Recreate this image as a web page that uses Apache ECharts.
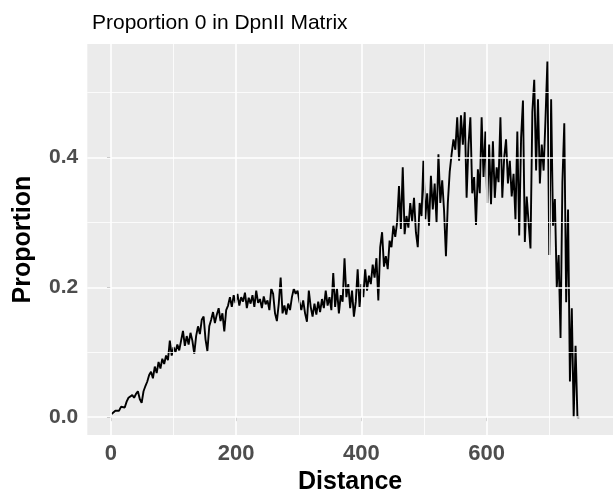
<!DOCTYPE html>
<html>
<head>
<meta charset="utf-8">
<title>Proportion 0 in DpnII Matrix</title>
<script src="https://cdn.jsdelivr.net/npm/echarts@6/dist/echarts.min.js"></script>
<style>
  html, body { margin: 0; padding: 0; background: #fff; }
  #chart { width: 613px; height: 500px; }
</style>
</head>
<body>
<div id="chart"></div>
<script>
// distance goes 1, 4, 7 ... (one value every 3)
const distStart = 1
const distStep = 3
const proportion = [
  0.005, 0.008, 0.010, 0.012, 0.010, 0.016, 0.018, 0.015, 0.024, 0.030,
  0.028, 0.034, 0.030, 0.036, 0.040, 0.028, 0.022, 0.040, 0.048, 0.055,
  0.065, 0.070, 0.060, 0.078, 0.068, 0.085, 0.075, 0.090, 0.082, 0.095,
  0.088, 0.118, 0.095, 0.108, 0.100, 0.112, 0.103, 0.118, 0.133, 0.110,
  0.125, 0.112, 0.130, 0.118, 0.098, 0.125, 0.140, 0.128, 0.150, 0.155,
  0.120, 0.102, 0.140, 0.150, 0.162, 0.145, 0.158, 0.168, 0.148, 0.160,
  0.132, 0.165, 0.172, 0.185, 0.170, 0.188, 0.176, 0.190, 0.172, 0.185,
  0.178, 0.192, 0.168, 0.184, 0.175, 0.188, 0.170, 0.195, 0.176, 0.182,
  0.168, 0.186, 0.174, 0.180, 0.165, 0.198, 0.190, 0.160, 0.148, 0.175,
  0.215, 0.160, 0.172, 0.158, 0.175, 0.165, 0.185, 0.198, 0.190, 0.195,
  0.178, 0.165, 0.180, 0.160, 0.147, 0.195, 0.170, 0.155, 0.175, 0.158,
  0.178, 0.162, 0.182, 0.168, 0.195, 0.172, 0.185, 0.165, 0.222, 0.170,
  0.198, 0.160, 0.188, 0.178, 0.245, 0.185, 0.205, 0.168, 0.195, 0.155,
  0.178, 0.228, 0.170, 0.205, 0.185, 0.228, 0.195, 0.218, 0.205, 0.235,
  0.215, 0.245, 0.180, 0.262, 0.285, 0.232, 0.248, 0.228, 0.272, 0.262,
  0.295, 0.278, 0.300, 0.356, 0.290, 0.385, 0.282, 0.310, 0.292, 0.330,
  0.302, 0.338, 0.285, 0.262, 0.330, 0.310, 0.395, 0.305, 0.345, 0.295,
  0.372, 0.320, 0.360, 0.300, 0.405, 0.330, 0.365, 0.318, 0.248, 0.330,
  0.378, 0.405, 0.428, 0.412, 0.462, 0.395, 0.465, 0.420, 0.470, 0.338,
  0.420, 0.462, 0.345, 0.370, 0.296, 0.382, 0.345, 0.462, 0.370, 0.440,
  0.330, 0.420, 0.328, 0.425, 0.338, 0.385, 0.362, 0.462, 0.338, 0.400,
  0.428, 0.360, 0.395, 0.340, 0.375, 0.305, 0.440, 0.280, 0.430, 0.488,
  0.270, 0.340, 0.300, 0.260, 0.470, 0.520, 0.380, 0.490, 0.360, 0.420,
  0.380, 0.460, 0.548, 0.250, 0.490, 0.295, 0.336, 0.200, 0.250, 0.122,
  0.362, 0.453, 0.177, 0.320, 0.055, 0.168, 0.000, 0.110, 0.000, 0.000
]

const xTicks = [0, 200, 400, 600]
const xMinor = [100, 300, 500, 700]
const yTicks = [0, 0.2, 0.4]
const yMinor = [0.1, 0.3, 0.5]

const font = "'Liberation Sans', Arial, Helvetica, sans-serif"
const points = proportion.map((v, i) => [distStart + i * distStep, v])

// white panel grid lines (ggplot look), drawn under the data line
const gridData = []
xMinor.forEach(v => gridData.push({ xAxis: v, lineStyle: { width: 0.8 } }))
yMinor.forEach(v => gridData.push({ yAxis: v, lineStyle: { width: 0.8 } }))
xTicks.forEach(v => gridData.push({ xAxis: v, lineStyle: { width: 1.6 } }))
yTicks.forEach(v => gridData.push({ yAxis: v, lineStyle: { width: 1.6 } }))

const chart = echarts.init(document.getElementById('chart'), null, { renderer: 'canvas' })
const opt = {
  animation: false,
  title: {
    text: 'Proportion 0 in DpnII Matrix',
    left: 87,
    top: 8,
    textStyle: { fontFamily: font, fontSize: 21, fontWeight: 'normal', color: '#000' }
  },
  grid: {
    left: 87.3,
    right: -15,
    top: 44,
    bottom: 62.7,
    show: true,
    backgroundColor: '#EBEBEB',
    borderWidth: 0
  },
  xAxis: {
    type: 'value',
    min: -37.8,
    max: 801.8,
    name: 'Distance',
    nameLocation: 'middle',
    nameGap: 30,
    nameTextStyle: { fontFamily: font, fontSize: 25, fontWeight: 'bold', color: '#000' },
    axisLine: { show: false },
    splitLine: { show: false },
    axisTick: { show: true, length: 4, customValues: xTicks, lineStyle: { color: '#333', width: 1 } },
    axisLabel: {
      customValues: xTicks,
      margin: 8,
      fontFamily: font,
      fontSize: 22,
      fontWeight: 'bold',
      color: '#4D4D4D'
    }
  },
  yAxis: {
    type: 'value',
    min: -0.0276,
    max: 0.575,
    name: 'Proportion',
    nameLocation: 'middle',
    nameRotate: 90,
    nameGap: 52,
    nameTextStyle: { fontFamily: font, fontSize: 25, fontWeight: 'bold', color: '#000' },
    axisLine: { show: false },
    splitLine: { show: false },
    axisTick: { show: true, length: 4, customValues: yTicks, lineStyle: { color: '#333', width: 1 } },
    axisLabel: {
      customValues: yTicks,
      margin: 9,
      fontFamily: font,
      fontSize: 21,
      fontWeight: 'bold',
      color: '#4D4D4D',
      formatter: v => v.toFixed(1)
    }
  },
  series: [
    {
      type: 'line',
      data: [],
      z: 1,
      silent: true,
      markLine: {
        silent: true,
        symbol: ['none', 'none'],
        label: { show: false },
        lineStyle: { color: '#FFFFFF', type: 'solid', opacity: 1 },
        emphasis: { disabled: true },
        data: gridData
      }
    },
    {
      type: 'line',
      data: points,
      z: 3,
      showSymbol: false,
      symbol: 'none',
      lineStyle: { color: '#000', width: 1.9 },
      emphasis: { disabled: true }
    }
  ]
}
chart.setOption(opt)
</script>
</body>
</html>
